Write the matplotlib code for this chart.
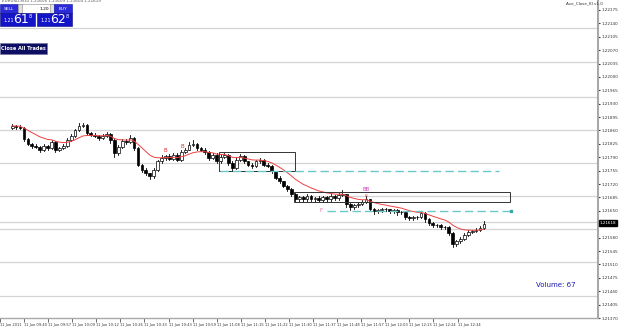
import numpy as np
import matplotlib.pyplot as plt
from matplotlib.patches import Rectangle

# EURUSD tick-ish candles (close prices)
closes = [
    1.21872, 1.21869, 1.21867, 1.21838, 1.21825, 1.21820, 1.21817, 1.21810, 1.21820, 1.21815,
    1.21830, 1.21810, 1.21815, 1.21820, 1.21836, 1.21846, 1.21861, 1.21872, 1.21874, 1.21854,
    1.21849, 1.21846, 1.21841, 1.21846, 1.21851, 1.21836, 1.21802, 1.21817, 1.21833, 1.21830,
    1.21841, 1.21815, 1.21771, 1.21758, 1.21748, 1.21740, 1.21758, 1.21779, 1.21789, 1.21794,
    1.21786, 1.21797, 1.21784, 1.21804, 1.21810, 1.21823, 1.21825, 1.21815, 1.21810, 1.21804,
    1.21789, 1.21797, 1.21779, 1.21792, 1.21797, 1.21776, 1.21763, 1.21784, 1.21794, 1.21779,
    1.21771, 1.21768, 1.21779, 1.21784, 1.21771, 1.21768, 1.21753, 1.21737, 1.21727, 1.21716,
    1.21706, 1.21693, 1.21680, 1.21685, 1.21680, 1.21688, 1.21680, 1.21683, 1.21678, 1.21685,
    1.21680, 1.21688, 1.21683, 1.21691, 1.21693, 1.21667, 1.21659, 1.21665, 1.21667, 1.21672,
    1.21680, 1.21654, 1.21649, 1.21652, 1.21654, 1.21654, 1.21649, 1.21652, 1.21646, 1.21646,
    1.21634, 1.21631, 1.21634, 1.21634, 1.21644, 1.21628, 1.21618, 1.21613, 1.21613, 1.21608,
    1.21608, 1.21592, 1.21564, 1.21571, 1.21577, 1.21587, 1.21595, 1.21597, 1.21600, 1.21605,
    1.21615,
]
first_open = 1.21866

# wick lengths in points (0.00001)
up_wick = [
    4, 3, 5, 2, 3, 2, 4, 3, 5, 3, 6, 2, 3, 4, 5, 6, 4, 8, 5, 3,
    2, 4, 3, 5, 4, 2, 3, 5, 6, 4, 7, 2, 3, 2, 3, 2, 4, 5, 6, 3,
    5, 4, 3, 6, 5, 8, 9, 3, 2, 3, 2, 5, 3, 6, 4, 2, 3, 6, 4, 3,
    2, 3, 5, 4, 2, 3, 2, 2, 3, 2, 2, 3, 4, 5, 3, 6, 4, 3, 5, 4,
    3, 5, 4, 6, 12, 2, 3, 4, 5, 6, 8, 2, 3, 2, 3, 4, 2, 3, 2, 3,
    2, 3, 2, 3, 6, 2, 3, 2, 3, 2, 3, 2, 2, 4, 5, 5, 4, 4, 5, 5,
    8,
]
dn_wick = [
    3, 4, 3, 6, 4, 5, 3, 6, 4, 5, 3, 6, 4, 3, 2, 3, 2, 3, 4, 5,
    3, 4, 5, 3, 4, 8, 12, 5, 3, 4, 3, 6, 5, 6, 5, 8, 4, 3, 4, 5,
    4, 3, 5, 4, 3, 2, 3, 5, 4, 5, 6, 4, 5, 3, 4, 7, 6, 3, 4, 5,
    4, 5, 3, 4, 5, 4, 3, 4, 3, 4, 3, 5, 4, 3, 6, 4, 5, 6, 4, 5,
    6, 4, 5, 4, 3, 6, 7, 5, 4, 3, 2, 5, 6, 4, 5, 4, 5, 4, 6, 5,
    6, 5, 4, 5, 3, 6, 5, 6, 5, 6, 5, 6, 9, 5, 4, 3, 4, 3, 3, 3,
    2,
]

date_labels = ["11 Jun 2011", "11 Jun 09:40", "11 Jun 09:57", "11 Jun 10:09", "11 Jun 10:12",
               "11 Jun 10:26", "11 Jun 10:33", "11 Jun 10:43", "11 Jun 10:59", "11 Jun 11:08",
               "11 Jun 11:15", "11 Jun 11:22", "11 Jun 11:30", "11 Jun 11:37", "11 Jun 11:48",
               "11 Jun 11:57", "11 Jun 12:03", "11 Jun 12:13", "11 Jun 12:24", "11 Jun 12:34"]

price_ticks = [1.22175 - 0.00035 * k for k in range(24)]
level_lines = [1.22128, 1.22039, 1.21948, 1.21862, 1.21776, 1.21688, 1.21622, 1.21602, 1.21516, 1.21427]

bid = 1.21618
volume = 67

# objects drawn by the EA (candle index, price)
box1 = (52.5, 72.0, 1.21753, 1.21805)
box2 = (71.8, 126.5, 1.21672, 1.21698)
dash1 = (52.8, 123.8, 1.21753)
dash2 = (80.0, 126.8, 1.21649)

n = len(closes)
opens = [first_open] + closes[:-1]
highs = [max(o, c) + w * 1e-5 for o, c, w in zip(opens, closes, up_wick)]
lows = [min(o, c) - w * 1e-5 for o, c, w in zip(opens, closes, dn_wick)]

# moving average of closes
ma = []
k = 2 / (13 + 1)
for c in closes:
    ma.append(c if not ma else ma[-1] + k * (c - ma[-1]))

fig = plt.figure(figsize=(6.25, 3.28), dpi=100)
ax = fig.add_axes([0, 10 / 328, 598 / 625, 318 / 328])
ax.set_xlim(-0.5, 149)
ax.set_ylim(1.22201 - 318 * 0.00002606, 1.22201)

for lv in level_lines:
    ax.axhline(lv, color='#d4d4d4', lw=0.9, zorder=1)

for i in range(n):
    o, c = opens[i], closes[i]
    ax.plot([i, i], [lows[i], highs[i]], color='black', lw=0.6, zorder=3)
    bottom = min(o, c)
    h = max(abs(c - o), 0.000006)
    fc = 'white' if c >= o else 'black'
    ax.add_patch(Rectangle((i - 0.35, bottom), 0.7, h, facecolor=fc,
                           edgecolor='black', lw=0.5, zorder=4))

ax.plot(range(n), ma, color='#f04040', lw=0.7, zorder=5)

for x0, x1, y0, y1 in [box1, box2]:
    ax.add_patch(Rectangle((x0, y0), x1 - x0, y1 - y0, fill=False,
                           edgecolor='#333333', lw=0.7, zorder=6))
for x0, x1, y in [dash1, dash2]:
    ax.plot([x0, x1], [y, y], color='#6cc8c8', lw=1.0, ls=(0, (6, 3)), zorder=6)
ax.plot(dash2[1], dash2[2], 's', color='#3aa6a6', ms=1.5, zorder=6)

ax.text(39, 1.21808, 'B', color='#e03030', fontsize=4, ha='center', va='center')
ax.text(43.3, 1.21818, 'B', color='#e03030', fontsize=4, ha='center', va='center')
ax.text(90, 1.21707, 'BB', color='#d040c0', fontsize=4, ha='center', va='center')
ax.text(90, 1.21690, 'B', color='#e05050', fontsize=3, ha='center', va='center')
ax.text(78.5, 1.21651, 'F', color='#f070b0', fontsize=4, ha='center', va='center')

ax.text(133.2, 1.21456, f'Volume: {volume}', color='#1a1ab0', fontsize=5, ha='left', va='center')

# axes styling like the terminal
for s in ['left', 'top']:
    ax.spines[s].set_visible(False)
ax.spines['right'].set_color('#a8a8a8')
ax.spines['right'].set_linewidth(1.5)
ax.spines['bottom'].set_color('#a8a8a8')
ax.spines['bottom'].set_linewidth(1.0)
ax.yaxis.tick_right()
ax.set_yticks(price_ticks)
# the bid marker hides the tick label under it
ax.set_yticklabels(['' if abs(p - bid) < 0.00015 else f'{p:.5f}' for p in price_ticks])
ax.tick_params(axis='y', labelsize=3.0, length=1.5, width=0.8, pad=1, colors='#333333')
xt = [-3.1 + 6.125 * j for j in range(len(date_labels))]
ax.set_xticks(xt)
ax.set_xticklabels(date_labels)
for lbl in ax.get_xticklabels():
    lbl.set_ha('left')
ax.tick_params(axis='x', labelsize=2.6, length=3, width=0.5, pad=0.5, colors='#333333')

ax.annotate(f'{bid:.5f}', xy=(1.0, bid), xycoords=('axes fraction', 'data'),
            xytext=(1.5, 0), textcoords='offset points', fontsize=3.0, color='white',
            ha='left', va='center',
            bbox=dict(boxstyle='square,pad=0.15', fc='black', ec='black'))

# trade panel overlay (pixel coordinates of the figure)
ui = fig.add_axes([0, 0, 1, 1])
ui.set_xlim(0, 625)
ui.set_ylim(328, 0)
ui.axis('off')
ui.patch.set_alpha(0)

ui.text(2, 1.5, 'EURUSD,M10 1.21606 1.21609 1.21604 1.21619', fontsize=3, color='#555555', va='center')
ui.text(566, 3, 'Ave_Close_Kl v1.0', fontsize=3, color='#333333', va='center')

ui.add_patch(Rectangle((0, 4), 18, 9, fc='#2a2ad8', ec='#1010a0', lw=0.4))
ui.text(9, 8.5, 'SELL', color='white', fontsize=3.2, ha='center', va='center')
ui.add_patch(Rectangle((18, 4), 36, 9, fc='white', ec='#888888', lw=0.4))
ui.add_patch(Rectangle((18, 4), 4, 9, fc='#e0e0e0', ec='#888888', lw=0.4))
ui.add_patch(Rectangle((50, 4), 4, 9, fc='#e0e0e0', ec='#888888', lw=0.4))
ui.text(44, 8.5, '1.20', color='black', fontsize=3.2, ha='center', va='center')
ui.add_patch(Rectangle((54, 4), 18, 9, fc='#2a2ad8', ec='#1010a0', lw=0.4))
ui.text(63, 8.5, 'BUY', color='white', fontsize=3.2, ha='center', va='center')

for x0, big in [(0, '61'), (37, '62')]:
    ui.add_patch(Rectangle((x0, 13), 35, 13, fc='#1414c8', ec='#0a0a80', lw=0.4))
    ui.text(x0 + 3, 21, '1.21', color='white', fontsize=3.3, va='center')
    ui.text(x0 + 13, 19.5, big, color='white', fontsize=9, va='center')
    ui.text(x0 + 29, 16.5, '8', color='white', fontsize=3.5, va='center')

ui.add_patch(Rectangle((0, 43), 47, 11, fc='#0e0e62', ec='#7070a0', lw=0.4))
ui.text(23.5, 48.5, 'Close All Trades', color='white', fontsize=3.6, weight='bold',
        ha='center', va='center')

fig.savefig('out.png', dpi=100)
